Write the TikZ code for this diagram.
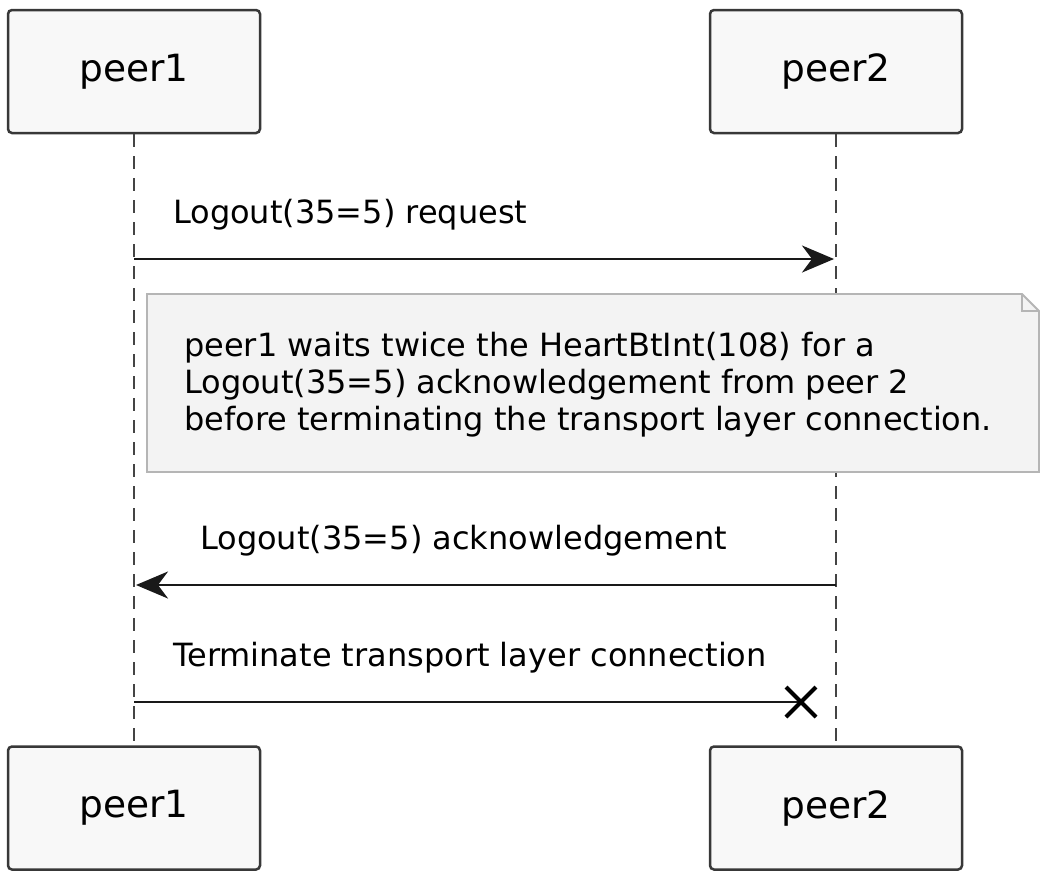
\documentclass[tikz,border=0pt]{standalone}
\usepackage{fontspec}
\setmainfont{DejaVu Sans}
\usetikzlibrary{arrows.meta}
\definecolor{boxfill}{HTML}{F8F8F8}
\definecolor{boxline}{HTML}{383838}
\definecolor{notefill}{HTML}{F3F3F3}
\definecolor{noteline}{HTML}{B5B5B5}
\definecolor{lifeline}{HTML}{444444}

\begin{document}
\begin{tikzpicture}[x=1pt,y=-1pt,>={Stealth[length=32pt,width=27pt,inset=10pt]},node distance=702pt,
    peer node/.style={draw=boxline,fill=boxfill,line width=2.5pt,rounded corners=4pt,minimum width=252pt,minimum height=123pt,font=\fontsize{37.5}{44}\selectfont},
    msg/.style={anchor=base west,inner sep=0pt,font=\fontsize{32}{37}\selectfont},
    life/.style={draw=lifeline,line width=1.6pt,dash pattern=on 13pt off 9pt},
    call/.style={draw=black!90,line width=2.5pt}]

            \useasboundingbox (0,0) rectangle (1040,871);

            \node[peer node] (1) at (134,71.5) {peer1};
            \node[peer node] (2) [right of = 1] {peer2};
            \node[peer node] (3) [below of = 1, node distance=736.5pt] {peer1};
            \node[peer node] (4) [below of = 2, node distance=736.5pt] {peer2};

            \draw[life] (1) to (3);
            \draw[life] (2) to (4);

            \coordinate (a1) at (134,259);
            \coordinate (a2) at (834,259);
            \coordinate (b1) at (136,585);
            \coordinate (b2) at (836,585);
            \coordinate (c1) at (134,702);
            \coordinate (x) at (801,702);

            \node[msg] (m1) at (173,223) {Logout(35=5) request};
            \draw[call,->] (a1) to (a2);

            \draw[draw=noteline,fill=notefill,line width=1.8pt] (147,294) -- (1022,294) -- (1039,311) -- (1039,472) -- (147,472) -- cycle;
            \draw[draw=noteline,line width=1.8pt] (1022,294) -- (1022,311) -- (1039,311);
            \node[msg,anchor=north west,align=left] (n) at (184,332) {peer1 waits twice the HeartBtInt(108) for a\\Logout(35=5) acknowledgement from peer 2\\before terminating the transport layer connection.};

            \node[msg] (m2) at (200,549) {Logout(35=5) acknowledgement};
            \draw[call,->] (b2) to (b1);

            \node[msg] (m3) at (173,666) {Terminate transport layer connection};
            \draw[call] (c1) to (x);
            \draw[line width=4pt] (x) +(-15,-15) -- +(15,15) (x) +(-15,15) -- +(15,-15);

            ;
        \end{tikzpicture}
\end{document}
